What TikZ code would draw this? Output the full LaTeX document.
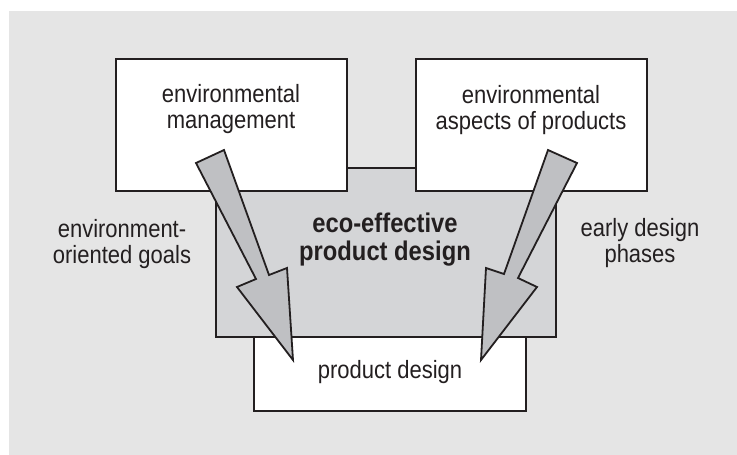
\documentclass[tikz,border=0pt]{standalone}
\usepackage{fontspec}
\setmainfont{Liberation Sans}[FakeStretch=0.88]
\definecolor{pagebg}{HTML}{E5E5E5}
\definecolor{corefill}{HTML}{D4D5D7}
\definecolor{arrowfill}{HTML}{BFC0C3}
\definecolor{ink}{HTML}{231F20}
\tikzset{
  box/.style={draw=ink, line width=2.2pt, fill=white},
  core/.style={draw=ink, line width=2.2pt, fill=corefill},
  blockarrow/.style={draw=ink, line width=1.8pt, fill=arrowfill, line join=miter},
  % base anchor of a multi-line node sits on its last line
  label/.style={align=center, text=ink, inner sep=0pt, anchor=base,
    font=\fontsize{25}{26}\selectfont},
  title/.style={align=center, text=ink, inner sep=0pt, anchor=base,
    font=\fontsize{27}{28}\selectfont\bfseries},
}
\begin{document}
\begin{tikzpicture}[x=1pt, y=-1pt]
  \useasboundingbox (0,0) rectangle (737,455);
  % page background
  \fill[pagebg] (8.5,11) rectangle (737,455);

  % product design box, partly under the core area
  \draw[box] (254,330) rectangle (526,411);
  % core area: eco-effective product design
  \draw[core] (216,168) rectangle (556,337);
  % the two input boxes
  \draw[box] (116,59) rectangle (347,191);
  \draw[box] (416,59) rectangle (647,191);

  % block arrows into product design
  \draw[blockarrow] (196,163) -- (224,150) -- (269,275) -- (287,268)
    -- (293,360) -- (237,287) -- (256,279) -- cycle;
  \draw[blockarrow] (548,150) -- (577,163) -- (518,278) -- (537,287)
    -- (481,360) -- (486,268) -- (504,274) -- cycle;

  % texts
  \node[label] (mgmt) at (231,128) {environmental\\management};
  \node[label] (asp) at (531,129) {environmental\\aspects of products};
  \node[label] (goals) at (122,263) {environment-\\oriented goals};
  \node[label] (early) at (640,262) {early design\\phases};
  \node[title] (eco) at (385,260) {eco-effective\\product design};
  \node[label] (pd) at (390,378) {product design};
\end{tikzpicture}
\end{document}
